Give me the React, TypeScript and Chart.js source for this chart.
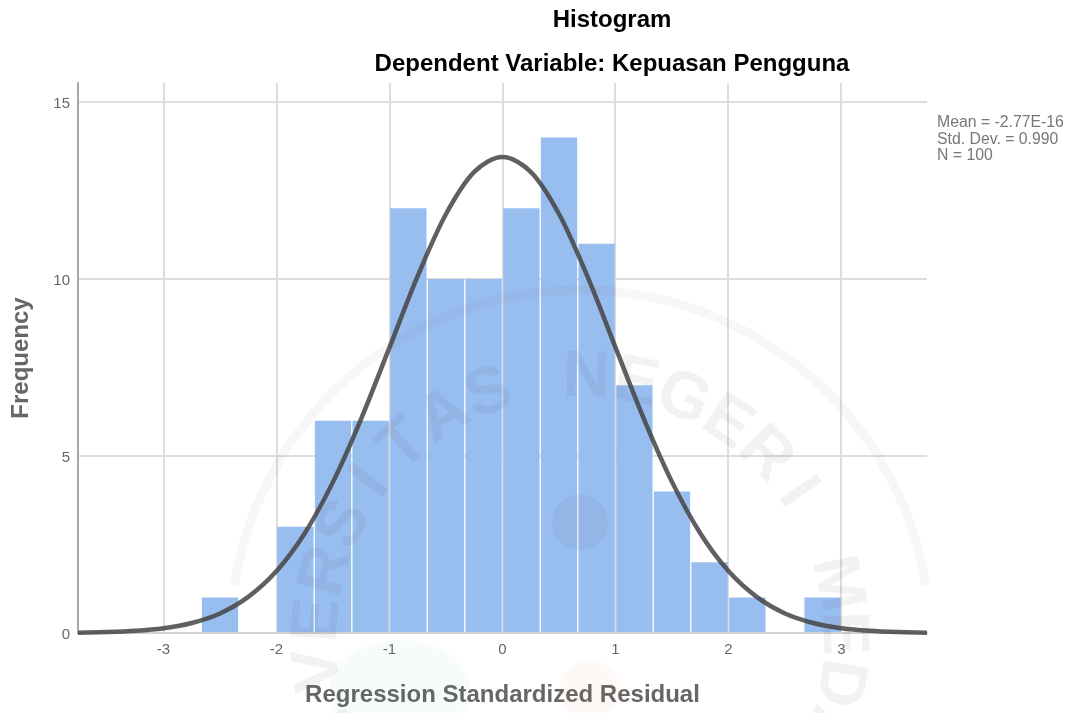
import React, { useEffect, useRef } from "react";
import { Chart, registerables } from "chart.js";

Chart.register(...registerables);

const titleLines = ["Histogram", "Dependent Variable: Kepuasan Pengguna"];
const statLines = ["Mean = -2.77E-16", "Std. Dev. = 0.990", "N = 100"];
const xTitle = "Regression Standardized Residual";
const yTitle = "Frequency";

const binCenters = [-2.5, -2.167, -1.833, -1.5, -1.167, -0.833, -0.5, -0.167, 0.167, 0.5, 0.833, 1.167, 1.5, 1.833, 2.167, 2.5, 2.833];
const frequencies = [1, 0, 3, 6, 6, 12, 10, 10, 12, 14, 11, 7, 4, 2, 1, 0, 1];

const curveX = [-3.757, -3.5, -3.25, -3, -2.75, -2.5, -2.25, -2, -1.75, -1.5, -1.25, -1, -0.75, -0.5, -0.25, 0, 0.25, 0.5, 0.75, 1, 1.25, 1.5, 1.75, 2, 2.25, 2.5, 2.75, 3, 3.25, 3.5, 3.757];
const curveY = [0.01, 0.026, 0.061, 0.136, 0.284, 0.553, 1.02, 1.75, 2.82, 4.27, 6.06, 8.07, 10.09, 11.84, 13.03, 13.45, 13.03, 11.84, 10.09, 8.07, 6.06, 4.27, 2.82, 1.75, 1.02, 0.553, 0.284, 0.136, 0.061, 0.026, 0.01];

const watermarkText = "UNIVERSITAS NEGERI MEDAN";

const watermark = {
  id: "watermark",
  afterDatasetsDraw(chart: any) {
    const c = chart.ctx;
    const cx = 580, cy = 640;
    c.save();
    // ring arcs
    c.strokeStyle = "rgba(90,90,110,0.05)";
    c.lineWidth = 9;
    c.beginPath();
    c.arc(cx, cy, 350, Math.PI * 1.05, Math.PI * 1.95);
    c.stroke();
    // seal text
    c.font = "bold 66px 'Liberation Sans'";
    c.fillStyle = "rgba(80,80,100,0.075)";
    c.textAlign = "center";
    c.textBaseline = "middle";
    const chars = watermarkText.split("");
    const step = 0.19;
    const start = -Math.PI / 2 - ((chars.length - 1) * step) / 2 - 0.07;
    chars.forEach((ch, i) => {
      const a = start + i * step;
      c.save();
      c.translate(cx + 262 * Math.cos(a), cy + 262 * Math.sin(a));
      c.rotate(a + Math.PI / 2);
      c.fillText(ch, 0, 0);
      c.restore();
    });
    // emblem
    c.fillStyle = "rgba(70,80,120,0.06)";
    c.beginPath();
    c.arc(580, 522, 28, 0, Math.PI * 2);
    c.fill();
    c.fillStyle = "rgba(60,170,90,0.035)";
    c.beginPath();
    c.ellipse(400, 690, 70, 50, 0, 0, Math.PI * 2);
    c.fill();
    c.fillStyle = "rgba(230,80,60,0.04)";
    c.beginPath();
    c.ellipse(590, 690, 30, 30, 0, 0, Math.PI * 2);
    c.fill();
    c.restore();
  },
};

export default function App() {
  const ref = useRef<HTMLCanvasElement | null>(null);

  useEffect(() => {
    if (!ref.current) return;
    const chart = new Chart(ref.current, {
      type: "bar",
      plugins: [watermark],
      data: {
        datasets: [
          {
            type: "line",
            label: "Normal",
            data: curveX.map((x, i) => ({ x, y: curveY[i] })),
            borderColor: "rgba(68,68,68,0.85)",
            borderWidth: 4.5,
            pointRadius: 0,
            tension: 0.33,
            clip: false,
            order: 0,
          },
          {
            type: "bar",
            label: "Frequency",
            data: binCenters.map((x, i) => ({ x, y: frequencies[i] })),
            backgroundColor: "#98BDEF",
            borderWidth: 0,
            barPercentage: 1,
            categoryPercentage: 0.965,
            order: 1,
          },
        ],
      } as any,
      options: {
        animation: false,
        responsive: false,
        layout: { padding: { top: 83, right: 142, left: 0, bottom: 0 } },
        plugins: {
          legend: { display: false },
          tooltip: { enabled: false },
          title: { display: false },
        },
        scales: {
          x: {
            type: "linear",
            offset: false,
            min: -3.757,
            max: 3.757,
            afterFit: (s: any) => { s.height = 80; },
            grid: { color: "#DDDDDD", lineWidth: 2, drawTicks: false, offset: false },
            border: { color: "#D0D0D0", width: 2 },
            ticks: {
              stepSize: 1,
              includeBounds: false,
              color: "#666666",
              padding: 8,
              maxRotation: 0,
              font: { family: "Liberation Sans", size: 15 },
            },
            title: {
              display: true,
              text: xTitle,
              color: "#666666",
              font: { family: "Liberation Sans", size: 24, weight: "bold" },
              padding: { top: 0, bottom: 3 },
            },
          },
          y: {
            type: "linear",
            min: 0,
            max: 15.54,
            afterFit: (s: any) => { s.width = 78; },
            grid: { color: "#DDDDDD", lineWidth: 2, drawTicks: false },
            border: { color: "#A8A8A8", width: 2 },
            ticks: {
              stepSize: 5,
              includeBounds: false,
              color: "#666666",
              padding: 8,
              labelOffset: 2,
              font: { family: "Liberation Sans", size: 15 },
            },
            title: {
              display: true,
              text: yTitle,
              color: "#666666",
              font: { family: "Liberation Sans", size: 24, weight: "bold" },
              padding: { top: 7, bottom: 0 },
            },
          },
        },
      } as any,
    });
    return () => chart.destroy();
  }, []);

  const font = "'Liberation Sans', Arial, sans-serif";
  return (
    <div style={{ position: "fixed", left: 0, top: 0, width: 1069, height: 713, background: "#fff", overflow: "hidden" }}>
      <canvas ref={ref} width={1069} height={713} style={{ display: "block" }} />
      {titleLines.map((t, i) => (
        <div
          key={t}
          style={{
            position: "absolute",
            left: 312,
            width: 600,
            top: i === 0 ? 5 : 49,
            textAlign: "center",
            fontFamily: font,
            fontWeight: "bold",
            fontSize: 24,
            lineHeight: "27px",
            color: "#000",
          }}
        >
          {t}
        </div>
      ))}
      <div style={{ position: "absolute", left: 937, top: 114, fontFamily: font, fontSize: 15.8, lineHeight: "16.5px", color: "#777", whiteSpace: "nowrap" }}>
        {statLines.map((t) => (
          <div key={t}>{t}</div>
        ))}
      </div>
    </div>
  );
}
